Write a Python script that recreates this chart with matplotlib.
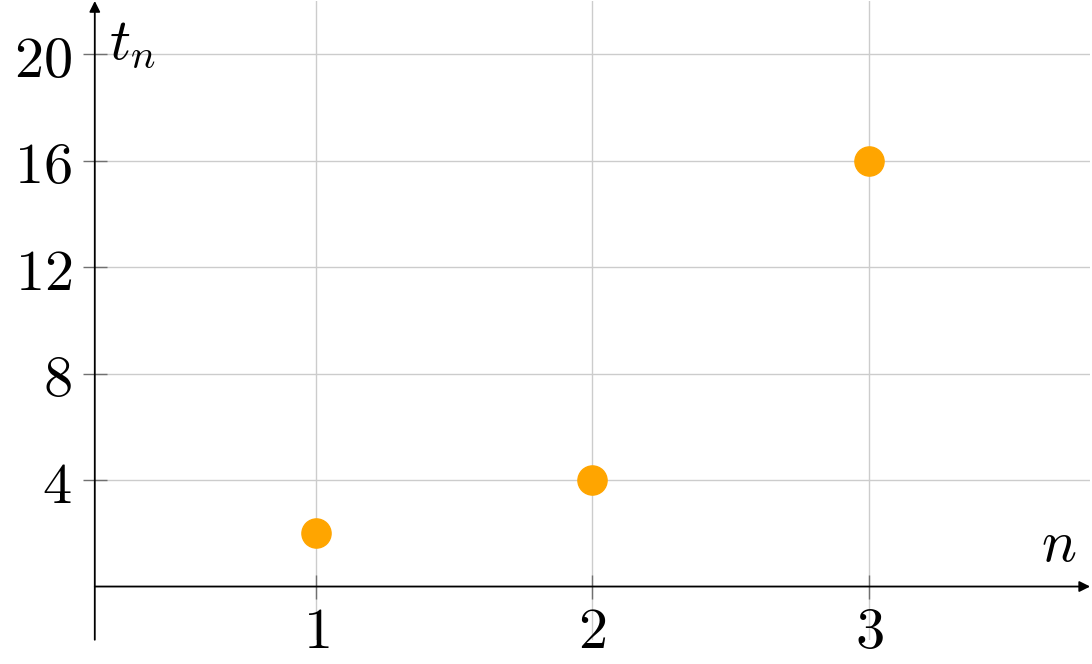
import numpy as np
import matplotlib
matplotlib.use("Agg")
from matplotlib import pyplot as plt

plt.rcParams['mathtext.fontset'] = 'cm'

# data
n_vals = [1, 2, 3]
t_vals = [2, 4, 16]
x_ticks = [1, 2, 3]
y_ticks = [4, 8, 12, 16, 20]

xmin, xmax = 0.2, 3.8
ymin, ymax = -2, 22

fig = plt.figure(figsize=(10.92, 6.64), dpi=100)
ax = fig.add_axes([0.0868, 0.0365, 0.9115, 0.962])
ax.set_xlim(xmin, xmax)
ax.set_ylim(ymin, ymax)

# axis lines through the data, like pgfplots "axis lines = middle"
for s in ['top', 'right', 'bottom', 'left']:
    ax.spines[s].set_visible(False)
ax.spines['bottom'].set_position(('data', 0))
ax.spines['left'].set_position(('data', xmin))

ax.annotate('', xy=(xmax, 0), xytext=(xmin, 0),
            arrowprops=dict(arrowstyle='-|>', color='black', lw=1.3,
                            mutation_scale=16, shrinkA=0, shrinkB=0))
ax.annotate('', xy=(xmin, ymax), xytext=(xmin, ymin),
            arrowprops=dict(arrowstyle='-|>', color='black', lw=1.3,
                            mutation_scale=16, shrinkA=0, shrinkB=0))

ax.set_xticks(x_ticks)
ax.set_xticklabels(['$%d$' % v for v in x_ticks])
ax.set_yticks(y_ticks)
ax.set_yticklabels(['$%d$' % v for v in y_ticks])
ax.tick_params(axis='both', direction='inout', length=17, width=1,
               color='#707070', labelsize=42)
ax.tick_params(axis='x', pad=3)
ax.tick_params(axis='y', pad=8)

ax.grid(True, color='#cccccc', linewidth=1)
ax.set_axisbelow(True)

ax.plot(n_vals, t_vals, 'o', color='#ffa500', markersize=21, zorder=5,
        clip_on=False)

ax.text(xmin + 0.05, ymax - 0.5, '$t_n$', fontsize=42, ha='left', va='top')
ax.text(xmax - 0.05, 0.5, '$n$', fontsize=42, ha='right', va='bottom')

fig.savefig('out.png', dpi=100)
